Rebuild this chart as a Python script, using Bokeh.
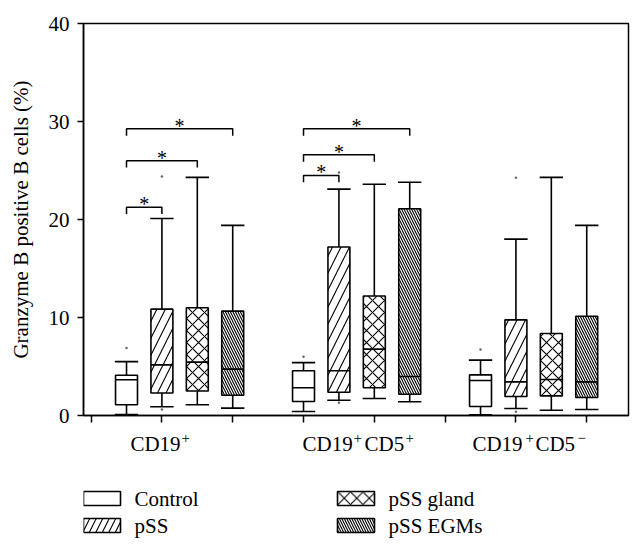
from bokeh.plotting import figure
from bokeh.layouts import column
from bokeh.models import Range1d, FixedTicker, Label, ColumnDataSource
from bokeh.core.properties import value
from bokeh.embed import file_html
from bokeh.resources import INLINE

FONT = "Liberation Serif"

# ---------------- data ----------------
groups = ["CD19+", "CD19+CD5+", "CD19+CD5-"]
series = ["Control", "pSS", "pSS gland", "pSS EGMs"]

whisker_low = {
    "Control":   [0.10, 0.41, 0.07],
    "pSS":       [0.89, 1.56, 0.71],
    "pSS gland": [1.10, 1.73, 0.54],
    "pSS EGMs":  [0.75, 1.40, 0.61],
}
q1 = {
    "Control":   [1.10, 1.43, 0.92],
    "pSS":       [2.30, 2.38, 1.94],
    "pSS gland": [2.50, 2.83, 2.00],
    "pSS EGMs":  [2.07, 2.17, 1.84],
}
median = {
    "Control":   [3.65, 2.83, 3.57],
    "pSS":       [5.17, 4.56, 3.43],
    "pSS gland": [5.45, 6.77, 3.67],
    "pSS EGMs":  [4.73, 3.98, 3.43],
}
q3 = {
    "Control":   [4.10, 4.56, 4.15],
    "pSS":       [10.85, 17.20, 9.76],
    "pSS gland": [11.00, 12.20, 8.37],
    "pSS EGMs":  [10.65, 21.10, 10.13],
}
whisker_high = {
    "Control":   [5.50, 5.40, 5.65],
    "pSS":       [20.10, 23.10, 18.00],
    "pSS gland": [24.30, 23.60, 24.30],
    "pSS EGMs":  [19.40, 23.80, 19.40],
}
# outlier dots: (group index, series index, value)
outlier_group = [0, 0, 0, 1, 1, 1, 2, 2, 2]
outlier_series = [0, 1, 1, 0, 1, 1, 0, 1, 1]
outlier_value = [6.9, 24.4, 0.6, 6.0, 24.8, 1.3, 6.73, 24.25, 0.37]

# significance brackets: (group index, compared series index, height)
bracket_group = [0, 0, 0, 1, 1, 1]
bracket_target = [1, 2, 3, 1, 2, 3]
bracket_height = [21.25, 26.0, 29.25, 24.5, 26.6, 29.25]

y_ticks = [0, 10, 20, 30, 40]
x_ticks = [0, 2, 4, 6, 8, 10, 12, 14]

hatches = {"Control": None, "pSS": "/", "pSS gland": "x", "pSS EGMs": "\\"}
hatch_scales = {"Control": 12, "pSS": 17, "pSS gland": 12, "pSS EGMs": 5}
legend_hatch_scales = {"Control": 12, "pSS": 13, "pSS gland": 12.5, "pSS EGMs": 5}

BOX_W = 0.62
CAP_W = 0.66
LW = 1.6
X0, X1 = -0.215, 15.18
FRAME_W = 545


def pos(g, s):
    return 1 + 5 * g + s


# ---------------- main plot ----------------
p = figure(frame_width=FRAME_W, frame_height=392,
           x_range=Range1d(X0, X1), y_range=Range1d(0, 40),
           output_backend="svg", toolbar_location=None,
           min_border_left=83, min_border_right=10, min_border_top=23,
           min_border_bottom=14)
p.xgrid.visible = False
p.ygrid.visible = False
p.outline_line_color = "black"
p.outline_line_width = 1.5
p.background_fill_color = "white"
p.border_fill_color = "white"

p.yaxis.ticker = FixedTicker(ticks=y_ticks, minor_ticks=[])
p.yaxis.axis_label = "Granzyme B positive B cells (%)"
p.yaxis.axis_label_text_font = FONT
p.yaxis.axis_label_text_font_size = "21px"
p.yaxis.axis_label_text_font_style = "normal"
p.yaxis.axis_label_text_color = "black"
p.yaxis.axis_label_standoff = 13
p.yaxis.major_label_text_font = FONT
p.yaxis.major_label_text_font_size = "21px"
p.yaxis.major_label_text_color = "black"
p.yaxis.major_label_standoff = 8
p.yaxis.major_tick_out = 6
p.yaxis.major_tick_in = 0
p.yaxis.axis_line_width = 1.5
p.yaxis.major_tick_line_width = 1.5
p.yaxis.axis_line_color = "black"
p.yaxis.major_tick_line_color = "black"

p.xaxis.ticker = FixedTicker(ticks=x_ticks, minor_ticks=[])
p.xaxis.major_label_overrides = {t: "" for t in x_ticks}
p.xaxis.major_label_text_font_size = "0px"
p.xaxis.major_label_standoff = 0
p.xaxis.major_tick_out = 7
p.xaxis.major_tick_in = 0
p.xaxis.axis_line_width = 1.5
p.xaxis.major_tick_line_width = 1.5
p.xaxis.axis_line_color = "black"
p.xaxis.major_tick_line_color = "black"

for s_i, s in enumerate(series):
    xs = [pos(g, s_i) for g in range(len(groups))]
    src = ColumnDataSource(dict(
        x=xs,
        xl=[x - CAP_W / 2 for x in xs], xr=[x + CAP_W / 2 for x in xs],
        ml=[x - BOX_W / 2 for x in xs], mr=[x + BOX_W / 2 for x in xs],
        lo=whisker_low[s], q1=q1[s], med=median[s], q3=q3[s], hi=whisker_high[s],
    ))
    p.segment(x0="x", y0="q3", x1="x", y1="hi", source=src, line_color="black", line_width=LW)
    p.segment(x0="x", y0="lo", x1="x", y1="q1", source=src, line_color="black", line_width=LW)
    p.segment(x0="xl", y0="hi", x1="xr", y1="hi", source=src, line_color="black", line_width=LW)
    p.segment(x0="xl", y0="lo", x1="xr", y1="lo", source=src, line_color="black", line_width=LW)
    kw = {}
    if hatches[s]:
        kw = dict(hatch_pattern=hatches[s], hatch_scale=hatch_scales[s],
                  hatch_color="black", hatch_weight=1.1)
    p.vbar(x="x", width=BOX_W, bottom="q1", top="q3", source=src,
           fill_color="white", line_color="black", line_width=LW, **kw)
    p.segment(x0="ml", y0="med", x1="mr", y1="med", source=src, line_color="black", line_width=LW)

p.scatter(x=[pos(g, s) for g, s in zip(outlier_group, outlier_series)], y=outlier_value,
          size=2.5, color="#666666", line_color=None)

DROP = 0.7
bx, by = [], []
star_x, star_y = [], []
for g, t, h in zip(bracket_group, bracket_target, bracket_height):
    x0 = pos(g, 0)
    x1 = pos(g, t)
    bx.append([x0, x0, x1, x1])
    by.append([h - DROP, h, h, h - DROP])
    star_x.append((x0 + x1) / 2)
    star_y.append(h + 0.3)
p.multi_line(xs=bx, ys=by, line_color="black", line_width=1.5)
p.text(x=star_x, y=star_y, text=["*"] * len(star_x), text_font=value(FONT),
       text_font_size="20px", text_align="center", text_baseline="alphabetic",
       text_color="black")

# ---------------- lower strip: category labels + legend ----------------
# coordinates in this strip are pixels: x from the frame's left edge,
# y downward from the strip's top
H2 = 116
p2 = figure(frame_width=FRAME_W, frame_height=H2, x_range=Range1d(0, FRAME_W),
            y_range=Range1d(H2, 0),
            output_backend="svg", toolbar_location=None,
            x_axis_type=None, y_axis_type=None,
            min_border_left=83, min_border_right=10, min_border_top=0,
            min_border_bottom=0)
p2.xgrid.visible = False
p2.ygrid.visible = False
p2.outline_line_color = None
p2.background_fill_color = "white"
p2.border_fill_color = "white"


def to_px(x):
    return (x - X0) * FRAME_W / (X1 - X0)


label_anchor = [1.11, 5.97, 10.77]
label_pieces = [
    [("CD19", 0, False), ("+", 51, True)],
    [("CD19", 0, False), ("+", 51, True), ("CD5", 62, False), ("+", 103, True)],
    [("CD19", 0, False), ("+", 53, True), ("CD5", 63, False), ("\u2212", 105, True)],
]
BASE_Y = 14
for ax, pieces in zip(label_anchor, label_pieces):
    for txt, off, sup in pieces:
        p2.add_layout(Label(x=to_px(ax) + off, y=BASE_Y - (6 if sup else 0), text=txt,
                            text_font=FONT, text_font_size="15px" if sup else "21px",
                            text_align="left", text_baseline="alphabetic",
                            text_color="black"))

# legend: two columns of two entries
KEY_W, KEY_H = 37, 14
col_x = [0, 254]
row_y = [69, 96]
entry_col = [0, 0, 1, 1]
entry_row = [0, 1, 0, 1]
for s, c, r in zip(series, entry_col, entry_row):
    kw = {}
    if hatches[s]:
        kw = dict(hatch_pattern=hatches[s], hatch_scale=legend_hatch_scales[s],
                  hatch_color="black", hatch_weight=1.1)
    p2.rect(x=[col_x[c] + KEY_W / 2], y=[row_y[r]], width=KEY_W, height=KEY_H,
            fill_color="white", line_color="black", line_width=LW, **kw)
p2.text(x=[col_x[c] + KEY_W + 14 for c in entry_col],
        y=[row_y[r] + 0.5 for r in entry_row], text=series,
        text_font=value(FONT), text_font_size="21px", text_align="left",
        text_baseline="alphabetic", text_color="black")

layout = column(p, p2, spacing=0)
open("out.html", "w").write(file_html(layout, INLINE))
